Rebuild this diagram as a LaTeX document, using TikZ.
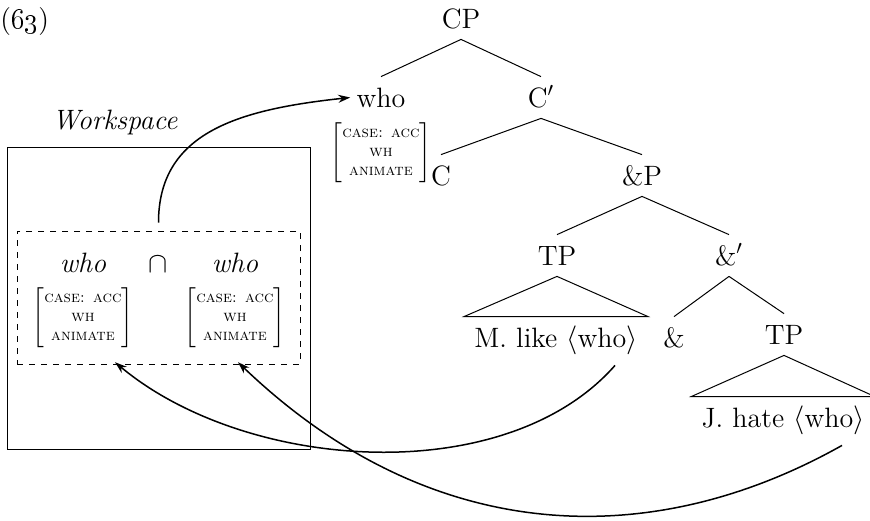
\documentclass[tikz,border=0pt]{standalone}
\usepackage{tikz}
\usetikzlibrary{
	positioning,
	calc,
	arrows.meta
}

\newcommand{\featmat}{$\left[\begin{tabular}{@{}c@{}}\textsc{case: acc}\\ \textsc{wh}\\ \textsc{animate}\end{tabular}\right]$}

\begin{document}
\begin{tikzpicture}[
	x=0.5pt, y=-0.5pt,
	font=\fontsize{14}{16}\selectfont,
	cat/.style={anchor=base, inner sep=3pt, text height=12pt, text depth=2.5pt},
	lex/.style={cat, font=\fontsize{14}{16}\selectfont\itshape},
	roof/.style={cat, inner xsep=5pt},
	feats/.style={font=\fontsize{8}{9.5}\selectfont, inner sep=0pt},
	branch/.style={line width=0.5pt},
	move/.style={-{Stealth[length=6pt,width=4pt]}, line width=0.75pt},
	wsbox/.style={draw, line width=0.5pt, minimum width=151.5pt, minimum height=151pt},
	pairbox/.style={draw, dashed, line width=0.5pt, minimum width=141.5pt, minimum height=66.5pt}
]
	\useasboundingbox (0,0) rectangle (870,520);

	\node[anchor=base west, inner sep=0pt] (exnum) at (0,28) {(\oldstylenums{63})};

	% tree
	\node[cat] (cp) at (461,28) {CP};
	\node[cat] (who) at (381,107) {who};
	\node[cat] (cbar) at (541,107) {C$'$};
	\node[feats, below=2pt of who] (whofeat) {\featmat};
	\node[cat] (c) at (441,185) {C};
	\node[cat] (andp) at (642,185) {\&P};
	\node[cat] (tpa) at (557,265) {TP};
	\node[cat] (andbar) at (729,265) {\&$'$};
	\node[roof] (mlike) at (556,347) {M. like $\langle$who$\rangle$};
	\node[cat] (amp) at (674,347) {\&};
	\node[cat] (tpb) at (784,344) {TP};
	\node[roof] (jhate) at (783,427) {J. hate $\langle$who$\rangle$};

	\draw[branch] (cp.south) -- (who.north);
	\draw[branch] (cp.south) -- (cbar.north);
	\draw[branch] (cbar.south) -- (c.north);
	\draw[branch] (cbar.south) -- (andp.north);
	\draw[branch] (andp.south) -- (tpa.north);
	\draw[branch] (andp.south) -- (andbar.north);
	\draw[branch] (tpa.south) -- (mlike.north west) -- (mlike.north east) -- cycle;
	\draw[branch] (andbar.south) -- (amp.north);
	\draw[branch] (andbar.south) -- (tpb.north);
	\draw[branch] (tpb.south) -- (jhate.north west) -- (jhate.north east) -- cycle;

	% workspace
	\node[wsbox] (space) at (158.5,298) {};
	\node[anchor=base, inner sep=0pt] (spacelabel) at (115,129) {\itshape Workspace};
	\node[pairbox] (pair) at (158.5,297.5) {};
	\node[lex] (whoa) at (83,272) {who};
	\node[cat] (meet) at (158,272) {$\cap$};
	\node[lex] (whob) at (235,272) {who};
	\node[feats, below=2pt of whoa] (feata) {\featmat};
	\node[feats, below=2pt of whob] (featb) {\featmat};

	% movement
	\draw[move] ($(pair.north)+(0,-8)$) .. controls +(0,-90) and +(-112,12) .. (who.west);
	\draw[move] ($(mlike.south)+(59,7)$) .. controls +(-109,124) and +(132,110) .. ($(feata.south)+(32,14)$);
	\draw[move] ($(jhate.south)+(59,7)$) .. controls +(-192,108) and +(192,184) .. ($(featb.south)+(3,14)$);

\end{tikzpicture}
\end{document}
